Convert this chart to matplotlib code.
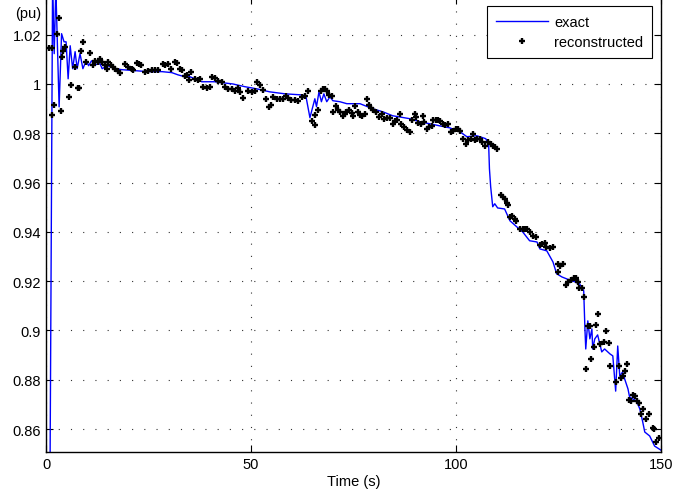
import matplotlib.pyplot as plt
from matplotlib.ticker import FuncFormatter

plt.rcParams['font.family'] = ['Liberation Sans', 'DejaVu Sans']

# exact curve (time in s, value in pu)
t_exact = [0.9, 1.0, 1.6, 2.0, 2.4, 3.2, 3.8, 4.4, 4.9, 5.4, 5.9, 6.5, 7.1, 7.6, 8.3,
           9.0, 9.8, 10.4, 11.1, 12.0, 13.2, 13.7, 15.1, 16.8, 18.5, 21.7, 24.9, 28.3,
           30.7, 32.2, 33.9, 34.6, 36.3, 38.0, 41.2, 45.6, 48.5, 51.5, 54.6, 58.3, 62.0,
           63.4, 64.4, 65.6, 66.0, 66.6, 67.2, 67.8, 68.5, 69.3, 70.0, 71.7, 73.4, 76.6,
           79.8, 82.2, 84.6, 88.8, 91.2, 96.1, 98.5, 101.0, 102.7, 105.1, 107.3, 108.0,
           108.2, 108.5, 109.0, 109.5, 110.2, 111.9, 113.2, 114.9, 116.3, 118.0, 119.8,
           120.5, 122.2, 123.7, 124.6, 125.9, 127.1, 128.5, 130.2, 131.2, 131.5, 131.7,
           132.2, 132.7, 133.2, 133.4, 133.9, 134.6, 135.6, 136.3, 137.6, 138.3, 139.0,
           139.5, 140.0, 140.7, 141.2, 142.0, 142.4, 144.1, 144.9, 145.6, 146.1, 147.3,
           148.5, 150.0]
v_exact = [0.840, 0.848, 1.039, 1.0123, 1.039, 0.9907, 1.0204, 1.0171, 1.0171, 1.0021,
           1.0155, 1.0062, 1.0131, 1.0062, 1.0123, 1.0062, 1.0094, 1.0074, 1.0094, 1.0078,
           1.0082, 1.0062, 1.0074, 1.0062, 1.0058, 1.0054, 1.0050, 1.0050, 1.0046, 1.0037,
           1.0029, 1.0033, 1.0021, 1.0009, 1.0009, 1.0000, 0.9989, 0.9980, 0.9968, 0.9960,
           0.9956, 0.9952, 0.9863, 0.9940, 0.9908, 0.9968, 0.9928, 0.9960, 0.9928, 0.9948,
           0.9932, 0.9928, 0.9920, 0.9920, 0.9899, 0.9887, 0.9871, 0.9859, 0.9847, 0.9830,
           0.9822, 0.9806, 0.9786, 0.9790, 0.9778, 0.9757, 0.9656, 0.9583, 0.9502, 0.9514,
           0.9497, 0.9493, 0.9445, 0.9420, 0.9400, 0.9364, 0.9359, 0.9331, 0.9323, 0.9278,
           0.9230, 0.9217, 0.9209, 0.9201, 0.9189, 0.9161, 0.9006, 0.8925, 0.9039, 0.8966,
           0.9006, 0.8925, 0.8966, 0.8982, 0.8913, 0.8925, 0.8905, 0.8897, 0.8754, 0.8937,
           0.8815, 0.8832, 0.8803, 0.8763, 0.8730, 0.8714, 0.8681, 0.8629, 0.8588, 0.8572,
           0.8531, 0.8515]

# reconstructed samples
t_rec = [0.8, 1.4, 1.4, 2.0, 2.6, 3.2, 3.6, 4.0, 4.2, 4.6, 5.6, 6.1, 7.1, 7.7, 8.0, 8.5,
         9.1, 9.8, 10.7, 11.4, 12.0, 12.8, 13.2, 13.6, 14.4, 14.8, 15.2, 15.8, 16.3, 16.8,
         17.6, 18.0, 19.3, 20.1, 20.9, 21.3, 22.1, 22.8, 23.3, 24.1, 25.0, 25.8, 26.6, 27.4,
         28.5, 29.0, 29.8, 30.5, 31.5, 31.9, 32.7, 33.3, 33.9, 34.3, 35.0, 35.5, 36.3, 37.2,
         37.6, 38.4, 39.2, 40.0, 40.4, 41.2, 42.0, 42.9, 43.7, 44.5, 45.3, 46.1, 46.9, 47.3,
         48.1, 49.3, 50.2, 51.0, 51.5, 52.2, 53.0, 53.8, 54.5, 55.0, 55.4, 56.3, 57.1, 57.9,
         58.5, 59.1, 59.9, 60.7, 61.5, 62.4, 63.2, 64.0, 64.8, 65.6, 65.6, 66.4, 67.0, 67.5,
         68.0, 68.6, 69.1, 69.7, 70.1, 70.7, 71.3, 71.7, 72.4, 72.9, 73.3, 74.0, 74.6, 75.0,
         75.4, 76.2, 76.6, 77.2, 77.8, 78.4, 78.9, 79.4, 79.8, 80.5, 81.3, 81.9, 82.4, 83.2,
         83.9, 84.6, 85.1, 85.7, 86.3, 86.7, 87.3, 88.1, 88.8, 89.4, 90.0, 90.4, 90.8, 91.4,
         91.9, 92.2, 92.9, 93.5, 94.1, 94.5, 95.1, 95.7, 96.1, 96.8, 97.3, 98.1, 98.7, 99.3,
         100.0, 100.6, 101.1, 101.8, 102.4, 103.0, 103.6, 104.1, 104.6, 105.2, 105.9, 106.5,
         107.1, 107.9, 108.5, 109.0, 109.5, 110.1, 111.1, 111.5, 111.9, 112.4, 112.8, 113.2,
         113.8, 114.4, 114.8, 115.6, 116.3, 116.8, 117.4, 118.0, 118.9, 119.5, 120.5, 121.1,
         121.7, 122.1, 122.9, 123.6, 125.0, 125.5, 126.2, 125.0, 127.4, 127.0, 128.2, 128.8,
         129.4, 129.8, 130.1, 130.7, 131.3, 131.7, 132.3, 132.8, 133.1, 133.7, 134.3, 134.7,
         135.1, 136.1, 136.7, 137.3, 137.7, 139.0, 139.8, 140.2, 140.7, 141.2, 141.8, 142.3,
         142.7, 143.2, 143.8, 144.2, 144.7, 145.1, 145.7, 146.5, 147.1, 148.0, 148.3, 148.8,
         149.5]
v_rec = [1.0146, 1.0146, 0.9876, 0.9916, 1.0204, 1.0268, 0.9891, 1.0110, 1.0135, 1.0151,
         0.9948, 0.9997, 1.0070, 0.9985, 0.9983, 1.0132, 1.0170, 1.0091, 1.0127, 1.0078,
         1.0094, 1.0089, 1.0102, 1.0091, 1.0075, 1.0062, 1.0089, 1.0075, 1.0069, 1.0062,
         1.0051, 1.0046, 1.0082, 1.0069, 1.0059, 1.0055, 1.0086, 1.0082, 1.0075, 1.0048,
         1.0051, 1.0055, 1.0058, 1.0055, 1.0082, 1.0075, 1.0082, 1.0062, 1.0089, 1.0085,
         1.0062, 1.0055, 1.0032, 1.0035, 1.0017, 1.0048, 1.0021, 1.0017,
         1.0021, 0.9987, 0.9983, 0.9987, 1.0028, 1.0024, 1.0014, 1.0008, 0.9987, 0.9980,
         0.9978, 0.9970, 0.9983, 0.9967, 0.9943, 0.9970, 0.9967, 0.9970, 1.0008, 0.9997,
         0.9974, 0.9940, 0.9906, 0.9913, 0.9947, 0.9940, 0.9937, 0.9940, 0.9953, 0.9943,
         0.9933, 0.9933, 0.9929, 0.9947, 0.9953, 0.9970, 0.9848, 0.9834, 0.9875, 0.9893,
         0.9970, 0.9978, 0.9980, 0.9970, 0.9956, 0.9951, 0.9888, 0.9910, 0.9896, 0.9888,
         0.9872, 0.9879, 0.9886, 0.9893, 0.9882, 0.9872, 0.9909, 0.9886, 0.9876, 0.9872,
         0.9879, 0.9940, 0.9916, 0.9902, 0.9893, 0.9888, 0.9866, 0.9879, 0.9859, 0.9862,
         0.9862, 0.9838, 0.9848, 0.9852, 0.9879, 0.9839, 0.9825, 0.9815, 0.9805, 0.9852,
         0.9879, 0.9866, 0.9843, 0.9839, 0.9872, 0.9846, 0.9818, 0.9825, 0.9829, 0.9852,
         0.9855, 0.9852, 0.9848, 0.9839, 0.9832, 0.9839, 0.9807, 0.9811, 0.9818, 0.9818,
         0.9811, 0.9775, 0.9757, 0.9771, 0.9775, 0.9798, 0.9771, 0.9778, 0.9778, 0.9764,
         0.9750, 0.9764, 0.9757, 0.9750, 0.9744, 0.9737, 0.9550, 0.9541, 0.9534, 0.9518,
         0.9510, 0.9460, 0.9464, 0.9453, 0.9446, 0.9412, 0.9410, 0.9412, 0.9410, 0.9401,
         0.9383, 0.9379, 0.9347, 0.9351, 0.9355, 0.9338, 0.9334, 0.9338, 0.9270, 0.9260,
         0.9270, 0.9239, 0.9198, 0.9185, 0.9206, 0.9212, 0.9212, 0.9196, 0.9171, 0.9171,
         0.9135, 0.8844, 0.9020, 0.9017, 0.8884, 0.8932, 0.9022, 0.9067, 0.8945, 0.8952,
         0.8999, 0.8948, 0.8857, 0.8790, 0.8857, 0.8806, 0.8817, 0.8837, 0.8864, 0.8719,
         0.8715, 0.8738, 0.8733, 0.8715, 0.8706, 0.8661, 0.8681, 0.8641, 0.8661, 0.8603,
         0.8600, 0.8549, 0.8563]

fig = plt.figure(figsize=(6.97, 5.02), dpi=100)
ax = fig.add_axes([0.066, 0.0976, 0.882, 0.906])

ax.plot(t_exact, v_exact, color='#0000ff', lw=1.0, label='exact')
ax.plot(t_rec, v_rec, linestyle='none', marker='+', color='black', ms=5, mew=1.7,
        label='reconstructed')

ax.set_xlim(0, 150)
ax.set_ylim(0.8507, 1.0352)
ax.set_xticks([0, 50, 100, 150])
ax.set_yticks([0.86, 0.88, 0.9, 0.92, 0.94, 0.96, 0.98, 1.0, 1.02])
ax.yaxis.set_major_formatter(FuncFormatter(lambda v, p: '%g' % round(v, 4)))
ax.tick_params(direction='in', length=5, width=0.8, labelsize=10.5, top=True, right=True)
ax.grid(True, color='#333333', linestyle=(0, (1, 10)), linewidth=0.8)
for s in ax.spines.values():
    s.set_linewidth(1.0)

ax.set_xlabel('Time (s)', fontsize=10.5, labelpad=2)
fig.text(0.021, 0.972, '(pu)', fontsize=10.5, va='center', ha='left')

leg = ax.legend(loc='upper right', fontsize=10.5, frameon=True, fancybox=False,
                framealpha=1, edgecolor='black', handlelength=3.6, handletextpad=0.4,
                borderaxespad=0.6, borderpad=0.6, labelspacing=0.45)
leg.get_frame().set_linewidth(0.8)

fig.savefig('out.png', dpi=100)
